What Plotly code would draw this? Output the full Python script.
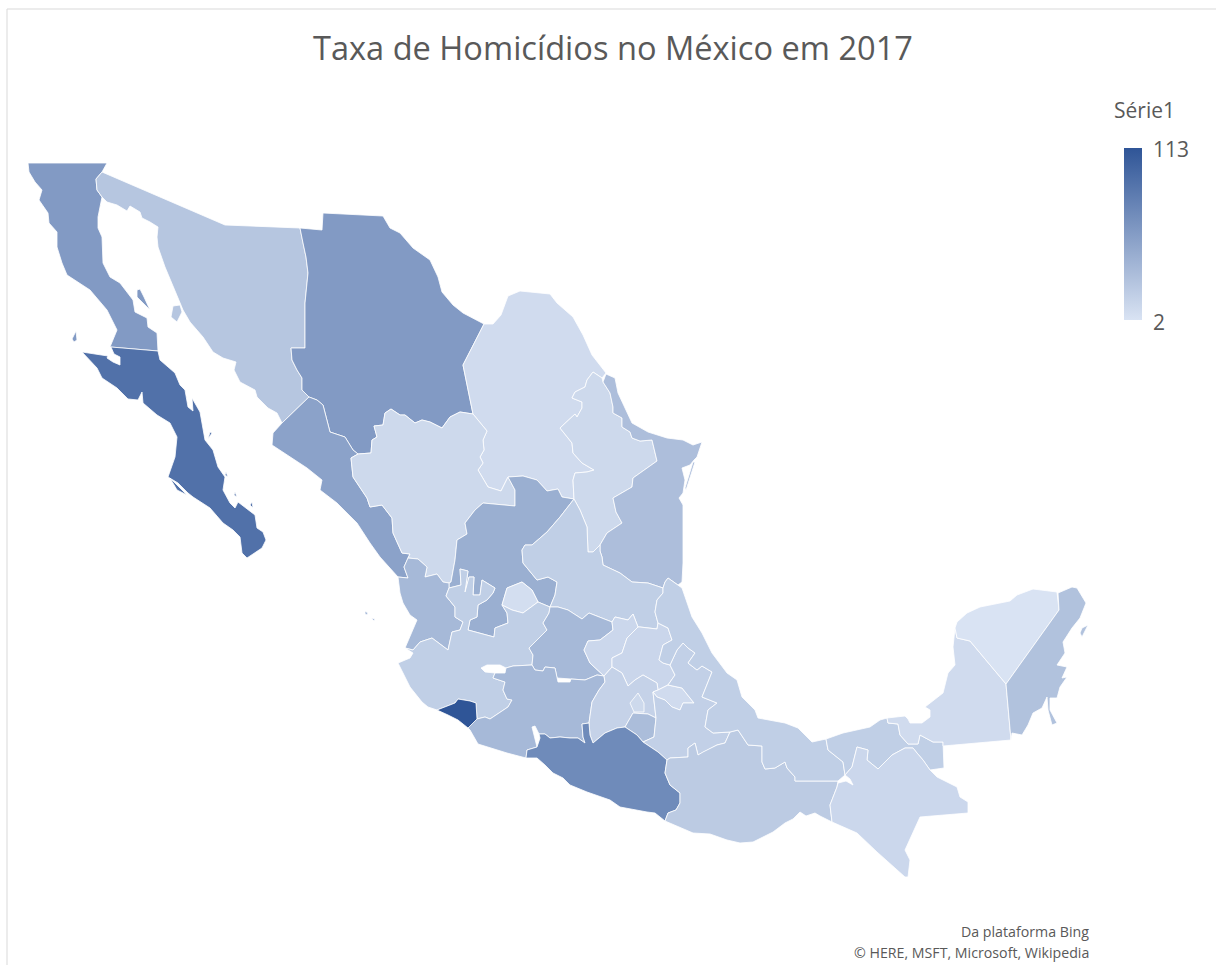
import plotly.graph_objects as go
from plotly.colors import sample_colorscale

# Homicide rate per state, 2017
states = [
    "Baja California", "Baja California Sur", "Sonora", "Chihuahua", "Coahuila", "Nuevo León",
    "Tamaulipas", "Sinaloa", "Durango", "Zacatecas", "San Luis Potosí", "Nayarit", "Aguascalientes",
    "Jalisco", "Guanajuato", "Querétaro", "Hidalgo", "Michoacán", "Colima", "México",
    "Ciudad de México", "Morelos", "Tlaxcala", "Puebla", "Guerrero", "Oaxaca", "Veracruz",
    "Tabasco", "Chiapas", "Campeche", "Yucatán", "Quintana Roo",
]
rates = [
    59, 91, 25, 59, 8, 10,
    31, 53, 10, 43, 18, 35, 6,
    18, 35, 11, 12, 35, 113, 15,
    10, 32, 8, 17, 71, 21, 18,
    18, 11, 8, 2, 28,
]

# State outlines on a planar survey grid, one closed ring per land mass
outlines = {
    "Baja California": [
        [(28,163),(107,163),(102,172),(96,179),(97,190),(102,197),(98,217),(98,228),(102,237),(103,263),(110,277),(120,283),(133,300),(135,312),(147,318),(148,327),(157,333),(158,351),(110,347),(117,330),(107,310),(90,290),(67,275),(62,263),(57,247),(57,232),(49,223),(48,213),(39,200),(42,190),(35,182),(29,172)],
        [(137,290),(140,289),(144,297),(150,310),(143,303),(137,297)],
        [(76,331),(77,340),(74,342),(72,339)],
    ],
    "Baja California Sur": [
        [(82,352),(103,355),(108,356),(107,358),(113,362),(120,365),(120,357),(114,354),(111,347),(158,351),(160,360),(175,373),(180,385),(185,390),(188,407),(193,411),(192,398),(200,412),(203,430),(205,440),(213,450),(218,467),(225,477),(223,490),(230,503),(235,508),(238,502),(248,510),(255,515),(257,528),(263,532),(266,540),(262,548),(247,558),(242,553),(240,537),(233,530),(223,523),(210,508),(193,497),(188,493),(178,483),(168,477),(175,457),(177,437),(170,423),(157,415),(143,403),(142,392),(138,400),(128,399),(117,388),(102,378),(97,368)],
        [(170,478),(187,495),(177,490)],
        [(252,502),(253,508),(250,505)],
        [(235,492),(237,497),(234,495)],
        [(226,472),(228,477),(225,475)],
        [(210,432),(212,433),(208,439)],
    ],
    "Sonora": [
        [(102,172),(225,225),(300,228),(303,243),(306,257),(308,273),(305,303),(305,348),(291,348),(292,360),(297,370),(302,378),(302,390),(309,397),(282,423),(277,413),(268,408),(257,397),(255,390),(240,382),(234,370),(236,362),(223,358),(213,352),(203,337),(190,322),(183,310),(178,298),(172,283),(165,267),(158,247),(157,237),(158,227),(150,222),(142,218),(140,212),(130,206),(127,211),(117,205),(107,202),(102,197),(97,190),(96,179)],
        [(173,306),(180,305),(182,312),(177,322),(171,317)],
    ],
    "Chihuahua": [
        [(300,228),(322,230),(323,213),(383,216),(390,228),(400,233),(413,248),(430,260),(438,277),(442,292),(453,305),(463,313),(484,324),(463,365),(473,414),(460,412),(450,417),(442,428),(430,422),(422,420),(415,423),(405,415),(400,415),(391,409),(385,413),(383,425),(374,426),(377,437),(372,440),(371,453),(358,454),(353,450),(345,437),(330,432),(323,405),(317,400),(309,397),(302,390),(302,378),(297,370),(292,360),(291,348),(305,348),(305,303),(308,273),(306,257),(303,243)],
    ],
    "Coahuila": [
        [(484,324),(493,324),(501,315),(508,296),(520,291),(550,294),(557,303),(573,317),(583,335),(592,355),(606,373),(602,378),(593,372),(587,380),(585,387),(575,392),(572,398),(582,402),(582,408),(577,417),(575,414),(560,428),(572,443),(573,453),(582,463),(594,470),(587,472),(575,473),(573,480),(574,499),(562,497),(558,489),(547,491),(537,480),(523,476),(508,477),(501,491),(488,487),(478,470),(483,463),(480,457),(484,450),(483,440),(487,431),(473,414),(463,365)],
    ],
    "Nuevo León": [
        [(593,372),(602,378),(603,382),(610,393),(613,407),(613,413),(622,418),(622,427),(630,432),(632,438),(640,441),(652,440),(657,461),(633,478),(632,487),(613,498),(616,512),(622,523),(607,533),(600,545),(593,552),(588,552),(587,527),(580,510),(574,499),(573,480),(575,473),(587,472),(594,470),(582,463),(573,453),(572,443),(560,428),(575,414),(577,417),(582,408),(582,402),(572,398),(575,392),(585,387),(587,380)],
    ],
    "Tamaulipas": [
        [(606,374),(615,378),(618,393),(632,423),(648,432),(667,438),(683,440),(693,445),(702,442),(697,457),(694,460),(690,465),(682,468),(685,480),(683,493),(679,498),(683,505),(683,563),(682,582),(678,585),(668,578),(665,582),(663,588),(648,583),(632,582),(620,573),(603,565),(602,557),(600,551),(600,545),(607,533),(622,523),(616,512),(613,498),(632,487),(633,478),(657,461),(652,440),(640,441),(632,438),(630,432),(622,427),(622,418),(613,413),(613,407),(610,393),(603,382)],
        [(693,462),(695,462),(686,490),(685,488)],
    ],
    "Sinaloa": [
        [(309,397),(317,400),(323,405),(330,432),(345,437),(353,450),(358,454),(351,458),(353,477),(367,498),(370,507),(382,505),(392,518),(393,533),(402,553),(410,554),(408,558),(404,567),(408,578),(398,577),(380,557),(370,543),(357,523),(337,503),(320,490),(322,480),(307,468),(287,455),(272,445),(273,433),(282,423)],
    ],
    "Durango": [
        [(358,454),(371,453),(372,440),(377,437),(374,426),(383,425),(385,413),(391,409),(400,415),(405,415),(415,423),(422,420),(430,422),(442,428),(450,417),(460,412),(473,414),(487,431),(483,440),(484,450),(480,457),(483,463),(478,470),(488,487),(501,491),(508,477),(515,490),(515,506),(483,503),(475,510),(465,523),(467,534),(457,540),(455,560),(451,582),(449,583),(443,582),(437,574),(425,577),(427,567),(418,559),(408,558),(410,554),(402,553),(393,533),(392,518),(382,505),(370,507),(367,498),(353,477),(351,458)],
    ],
    "Zacatecas": [
        [(508,477),(523,476),(537,480),(547,491),(558,489),(562,497),(574,499),(560,517),(547,532),(532,545),(525,545),(522,550),(523,563),(537,580),(548,577),(557,582),(555,595),(550,607),(538,602),(532,590),(522,582),(507,588),(502,605),(507,613),(508,623),(495,628),(494,637),(468,630),(470,620),(477,617),(478,605),(487,600),(493,593),(495,588),(482,580),(480,595),(473,595),(474,577),(469,577),(465,592),(468,571),(460,569),(461,585),(449,588),(449,583),(451,582),(455,560),(457,540),(467,534),(465,523),(475,510),(483,503),(515,506),(515,490)],
    ],
    "San Luis Potosí": [
        [(574,499),(580,510),(587,527),(588,552),(593,552),(600,545),(600,551),(602,557),(603,565),(620,573),(632,582),(648,583),(663,588),(663,593),(657,600),(655,612),(658,623),(657,629),(640,627),(638,627),(633,614),(628,620),(615,617),(612,622),(589,613),(582,619),(568,610),(558,607),(550,607),(555,595),(557,582),(548,577),(537,580),(523,563),(522,550),(525,545),(532,545),(547,532),(560,517)],
    ],
    "Nayarit": [
        [(398,577),(408,578),(404,567),(408,558),(418,559),(427,567),(425,577),(437,574),(443,582),(449,583),(449,588),(446,596),(455,607),(455,617),(463,622),(460,630),(452,632),(448,650),(432,638),(420,642),(413,650),(405,648),(417,620),(410,615),(403,603),(400,593)],
        [(365,611),(368,613),(367,615),(365,614)],
        [(371,618),(375,619),(374,621)],
    ],
    "Aguascalientes": [
        [(522,582),(532,590),(538,602),(523,613),(512,610),(502,605),(507,588)],
    ],
    "Jalisco": [
        [(449,588),(461,585),(460,569),(468,571),(465,592),(469,577),(474,577),(473,595),(480,595),(482,580),(495,588),(493,593),(487,600),(478,605),(477,617),(470,620),(468,630),(494,637),(495,628),(508,623),(507,613),(502,605),(512,610),(523,613),(538,602),(550,607),(549,613),(543,623),(547,630),(529,648),(533,655),(532,665),(513,666),(506,668),(500,665),(487,665),(481,668),(485,672),(495,673),(493,678),(505,682),(503,690),(507,699),(512,700),(508,707),(500,712),(490,719),(485,717),(477,719),(476,703),(470,701),(458,699),(455,703),(437,710),(428,707),(422,702),(410,687),(403,673),(398,663),(410,658),(413,653),(405,648),(413,650),(420,642),(432,638),(448,650),(452,632),(460,630),(463,622),(455,617),(455,607),(446,596)],
    ],
    "Guanajuato": [
        [(550,607),(558,607),(568,610),(582,619),(589,613),(612,622),(613,630),(600,640),(588,641),(584,650),(590,663),(604,676),(597,675),(585,680),(571,679),(557,678),(555,668),(545,667),(543,671),(535,670),(532,665),(533,655),(529,648),(547,630),(543,623),(549,613)],
    ],
    "Querétaro": [
        [(612,622),(615,617),(628,620),(633,614),(638,627),(627,638),(622,653),(612,658),(612,667),(604,676),(590,663),(584,650),(588,641),(600,640),(613,630)],
    ],
    "Hidalgo": [
        [(638,627),(640,627),(657,629),(658,623),(668,628),(672,640),(663,645),(659,660),(663,663),(670,665),(675,675),(668,685),(658,690),(657,683),(643,675),(635,680),(628,686),(622,673),(612,667),(612,658),(622,653),(627,638)],
    ],
    "Michoacán": [
        [(532,665),(535,670),(543,671),(545,667),(555,668),(557,678),(558,682),(570,682),(571,679),(585,680),(597,675),(604,676),(605,682),(599,690),(592,702),(589,723),(582,724),(583,737),(585,743),(578,738),(570,738),(560,737),(550,738),(545,734),(539,734),(535,726),(532,727),(534,735),(537,747),(527,750),(526,758),(507,753),(497,750),(478,744),(470,730),(468,728),(477,719),(485,717),(490,719),(500,712),(508,707),(512,700),(507,699),(503,690),(505,682),(493,678),(495,673),(505,673),(506,668),(513,666)],
    ],
    "Colima": [
        [(437,710),(455,703),(458,699),(470,701),(476,703),(477,719),(468,728),(458,720),(448,715)],
    ],
    "México": [
        [(604,676),(612,667),(622,673),(628,686),(635,680),(643,675),(657,683),(658,690),(653,692),(656,718),(648,714),(633,713),(625,727),(617,728),(605,733),(593,743),(590,735),(589,723),(592,702),(599,690),(605,682)],
    ],
    "Ciudad de México": [
        [(638,693),(644,703),(644,712),(634,712),(630,703)],
    ],
    "Morelos": [
        [(633,713),(648,714),(656,718),(654,737),(643,742),(637,735),(625,727)],
    ],
    "Tlaxcala": [
        [(653,692),(658,690),(668,685),(682,688),(694,703),(683,703),(680,710),(672,707),(665,700),(657,697)],
    ],
    "Puebla": [
        [(670,665),(677,650),(683,643),(688,648),(695,653),(688,663),(697,670),(702,666),(712,672),(702,697),(717,703),(708,710),(705,727),(713,733),(730,732),(725,743),(717,745),(703,752),(698,755),(695,743),(688,748),(688,757),(670,758),(667,760),(658,752),(643,742),(654,737),(656,718),(653,692),(657,697),(665,700),(672,707),(680,710),(683,703),(694,703),(682,688),(668,685),(675,675)],
    ],
    "Guerrero": [
        [(526,758),(527,750),(537,747),(540,738),(539,734),(545,734),(550,738),(560,737),(570,738),(578,738),(585,743),(583,737),(582,724),(589,723),(590,735),(593,743),(605,733),(617,728),(625,727),(637,735),(643,742),(658,752),(667,760),(665,773),(670,785),(680,793),(680,803),(676,810),(668,813),(665,821),(655,813),(647,812),(620,807),(610,800),(587,792),(570,785),(563,778),(553,773),(545,765),(537,758)],
    ],
    "Oaxaca": [
        [(667,760),(670,758),(688,757),(688,748),(695,743),(698,755),(703,752),(717,745),(725,743),(730,732),(738,730),(748,745),(762,746),(762,762),(765,769),(775,768),(785,762),(787,768),(795,777),(795,781),(838,781),(837,787),(830,805),(832,822),(820,816),(815,813),(806,816),(800,812),(793,819),(785,823),(773,832),(753,842),(740,843),(727,840),(710,834),(693,833),(665,821),(668,813),(676,810),(680,803),(680,793),(670,785),(665,773)],
    ],
    "Veracruz": [
        [(663,588),(665,582),(668,578),(678,585),(682,588),(692,617),(702,633),(712,653),(727,673),(737,680),(742,697),(755,710),(758,718),(785,723),(798,728),(812,742),(826,739),(828,750),(843,762),(845,775),(842,778),(838,781),(795,781),(795,777),(787,768),(785,762),(775,768),(765,769),(762,762),(762,746),(748,745),(738,730),(730,732),(713,733),(705,727),(708,710),(717,703),(702,697),(712,672),(702,666),(697,670),(688,663),(695,653),(688,648),(683,643),(677,650),(670,665),(663,663),(659,660),(663,645),(672,640),(668,628),(658,623),(655,612),(657,600),(663,593)],
    ],
    "Tabasco": [
        [(826,739),(843,733),(870,727),(880,720),(887,718),(888,723),(898,724),(900,735),(908,744),(918,744),(920,735),(933,742),(943,742),(944,768),(930,770),(923,760),(917,753),(913,748),(905,748),(892,755),(878,769),(867,760),(868,750),(857,747),(852,767),(845,775),(843,762),(828,750)],
    ],
    "Chiapas": [
        [(832,822),(830,805),(837,787),(838,783),(846,781),(853,785),(850,779),(845,775),(852,767),(857,747),(868,750),(867,760),(878,769),(892,755),(905,748),(913,748),(917,753),(923,760),(930,770),(937,777),(957,787),(960,797),(968,802),(968,813),(920,817),(905,850),(910,860),(908,877),(905,877),(877,852),(857,833),(840,825)],
    ],
    "Campeche": [
        [(955,628),(957,638),(970,641),(1006,684),(1011,740),(943,746),(943,742),(933,742),(920,735),(918,744),(908,744),(900,735),(898,724),(888,723),(887,718),(905,716),(908,719),(910,723),(922,723),(930,717),(930,710),(925,707),(943,693),(948,673),(955,665),(953,647)],
    ],
    "Yucatán": [
        [(955,628),(957,622),(967,613),(980,607),(1010,601),(1017,595),(1033,589),(1057,592),(1059,610),(1006,684),(970,641),(957,638)],
    ],
    "Quintana Roo": [
        [(1058,593),(1072,587),(1077,588),(1082,597),(1086,603),(1080,618),(1072,628),(1063,642),(1065,653),(1057,665),(1067,667),(1062,678),(1067,677),(1060,687),(1057,698),(1050,698),(1050,710),(1057,723),(1052,725),(1048,710),(1047,697),(1042,708),(1033,713),(1028,725),(1022,735),(1012,733),(1011,740),(1006,684),(1059,610)],
        [(1082,628),(1088,625),(1082,637),(1080,633)],
    ],
}

GRID_DEG = 0.02868
LON_ORIGIN = -117.9
LAT_ORIGIN = 37.146
GRID_W, GRID_H = 1216, 965
RATE_MIN, RATE_MAX = 2, 113
RATE_SCALE = [[0, "#D9E3F3"], [1, "#2F5597"]]

TEXT = "#595959"
FONT = "Open Sans, Noto Sans, sans-serif"


def lon_of(x):
    return LON_ORIGIN + x * GRID_DEG


def lat_of(y):
    return LAT_ORIGIN - y * GRID_DEG


def label(text, x, y, size, anchor="center"):
    return dict(text=text, x=x / GRID_W, y=1 - y / GRID_H, xref="paper", yref="paper",
                xanchor=anchor, yanchor="middle", showarrow=False,
                font=dict(size=size, color=TEXT))


fig = go.Figure()

anchor_lon, anchor_lat = [], []
for name, rate in zip(states, rates):
    lons, lats = [], []
    for ring in outlines[name]:
        closed = ring + ring[:1]
        lons += [lon_of(x) for x, _ in closed] + [None]
        lats += [lat_of(y) for _, y in closed] + [None]
    main = outlines[name][0]
    anchor_lon.append(lon_of(sum(x for x, _ in main) / len(main)))
    anchor_lat.append(lat_of(sum(y for _, y in main) / len(main)))
    tint = sample_colorscale(RATE_SCALE, [(rate - RATE_MIN) / (RATE_MAX - RATE_MIN)])[0]
    fig.add_trace(go.Scatter(
        x=lons, y=lats, mode="lines", fill="toself", fillcolor=tint,
        line=dict(color="#FFFFFF", width=0.8), name=name, hoverinfo="skip", showlegend=False,
    ))

# One transparent point per state carries the hover text and the colour bar
fig.add_trace(go.Scatter(
    x=anchor_lon, y=anchor_lat, mode="markers", text=states, showlegend=False,
    hovertemplate="%{text}: %{marker.color}<extra></extra>",
    marker=dict(
        size=12, opacity=0, color=rates, cmin=RATE_MIN, cmax=RATE_MAX,
        colorscale=RATE_SCALE, showscale=True,
        colorbar=dict(
            x=1124 / GRID_W, xanchor="left", xpad=0,
            y=1 - 148 / GRID_H, yanchor="top", ypad=0,
            len=172 / GRID_H, lenmode="fraction",
            thickness=18, thicknessmode="pixels",
            outlinewidth=0, borderwidth=0,
            ticks="", showticklabels=False,
        ),
    ),
))

fig.update_xaxes(visible=False, range=[lon_of(0), lon_of(GRID_W)], domain=[0, 1], fixedrange=True)
fig.update_yaxes(visible=False, range=[lat_of(GRID_H), lat_of(0)], domain=[0, 1], fixedrange=True)

fig.update_layout(
    width=GRID_W, height=GRID_H,
    margin=dict(l=0, r=0, t=0, b=0),
    paper_bgcolor="#FFFFFF", plot_bgcolor="#FFFFFF",
    font=dict(family=FONT, color=TEXT),
    annotations=[
        label("Taxa de Homicídios no México em 2017", 612.5, 47, 32.6),
        label("Série1", 1144, 110, 21),
        label(str(RATE_MAX), 1171, 149, 21),
        label(str(RATE_MIN), 1159, 322, 21),
        label("Da plataforma Bing", 1091, 931, 14.2, "right"),
        label("© HERE, MSFT, Microsoft, Wikipedia", 1091, 952, 14.2, "right"),
    ],
    shapes=[
        dict(type="line", xref="paper", yref="paper", x0=7 / GRID_W, x1=1,
             y0=1 - 9 / GRID_H, y1=1 - 9 / GRID_H, line=dict(color="#D9D9D9", width=1)),
        dict(type="line", xref="paper", yref="paper", x0=7 / GRID_W, x1=7 / GRID_W,
             y0=0, y1=1 - 9 / GRID_H, line=dict(color="#D9D9D9", width=1)),
    ],
)

fig.write_html("out.html")
